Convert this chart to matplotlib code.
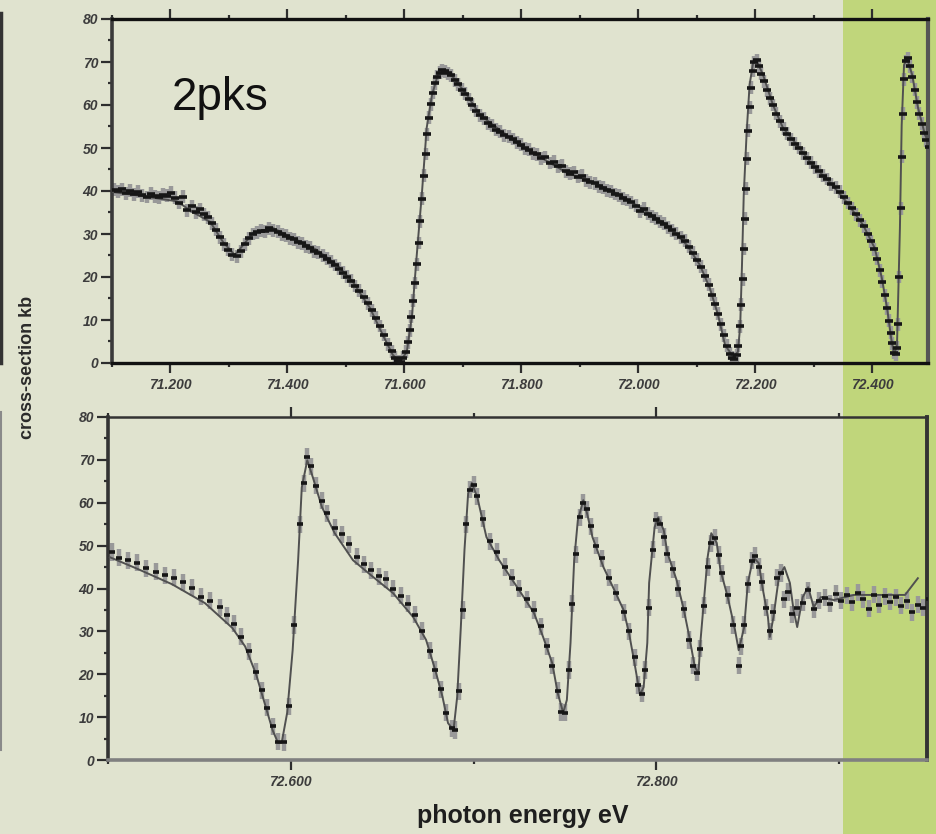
import matplotlib
matplotlib.use("Agg")
import matplotlib.pyplot as plt
from matplotlib.patches import Rectangle
from matplotlib.lines import Line2D
from matplotlib.ticker import MultipleLocator, FormatStrFormatter

# ---- top panel: 71.1 - 72.5 eV ----
top_x = [71.103, 71.110, 71.117, 71.124, 71.131, 71.138, 71.145, 71.152, 71.159, 71.166,
         71.173, 71.180, 71.187, 71.194, 71.201, 71.208, 71.215, 71.222, 71.229, 71.236,
         71.243, 71.250, 71.257, 71.264, 71.271, 71.278, 71.285, 71.292, 71.299, 71.306,
         71.313, 71.320, 71.327, 71.334, 71.341, 71.348, 71.355, 71.362, 71.369, 71.376,
         71.383, 71.390, 71.397, 71.404, 71.411, 71.418, 71.425, 71.432, 71.439, 71.446,
         71.453, 71.460, 71.467, 71.474, 71.481, 71.488, 71.495, 71.502, 71.509, 71.516,
         71.523, 71.530, 71.537, 71.544, 71.551, 71.558, 71.565, 71.572, 71.578, 71.584,
         71.589, 71.594, 71.598, 71.602, 71.606, 71.609, 71.612, 71.615, 71.618, 71.621,
         71.624, 71.627, 71.630, 71.633, 71.636, 71.639, 71.642, 71.645, 71.648, 71.652,
         71.656, 71.660, 71.665, 71.670, 71.675, 71.680, 71.686, 71.692, 71.698, 71.704,
         71.710, 71.716, 71.722, 71.729, 71.736, 71.743, 71.750, 71.757, 71.764, 71.771,
         71.778, 71.785, 71.792, 71.799, 71.806, 71.813, 71.820, 71.827, 71.834, 71.841,
         71.848, 71.855, 71.862, 71.869, 71.876, 71.883, 71.890, 71.897, 71.904, 71.911,
         71.918, 71.925, 71.932, 71.939, 71.946, 71.953, 71.960, 71.967, 71.974, 71.981,
         71.988, 71.995, 72.002, 72.009, 72.016, 72.023, 72.030, 72.037, 72.044, 72.051,
         72.058, 72.065, 72.072, 72.079, 72.086, 72.093, 72.100, 72.107, 72.114, 72.120,
         72.126, 72.131, 72.136, 72.141, 72.146, 72.151, 72.156, 72.160, 72.164, 72.168,
         72.171, 72.174, 72.176, 72.178, 72.180, 72.182, 72.184, 72.186, 72.188, 72.190,
         72.192, 72.195, 72.198, 72.202, 72.206, 72.210, 72.215, 72.220, 72.225, 72.230,
         72.236, 72.242, 72.248, 72.254, 72.260, 72.267, 72.274, 72.281, 72.288, 72.295,
         72.302, 72.309, 72.316, 72.323, 72.330, 72.337, 72.344, 72.351, 72.358, 72.365,
         72.372, 72.379, 72.386, 72.392, 72.398, 72.403, 72.408, 72.413, 72.417, 72.421,
         72.425, 72.428, 72.431, 72.434, 72.437, 72.440, 72.442, 72.444, 72.446, 72.448,
         72.450, 72.452, 72.454, 72.457, 72.460, 72.464, 72.468, 72.472, 72.476, 72.480,
         72.484, 72.488, 72.492, 72.496]
top_y = [40.3, 39.9, 40.4, 39.5, 40.1, 39.2, 39.8, 39.0, 38.6, 39.4,
         38.8, 38.5, 39.1, 38.9, 39.6, 38.4, 37.2, 38.7, 35.5, 36.4,
         35.0, 35.8, 34.6, 33.9, 32.5, 31.0, 29.2, 27.6, 26.3, 25.2,
         24.8, 26.0, 27.6, 29.0, 30.0, 30.4, 30.8, 30.6, 31.3, 30.9,
         30.5, 29.9, 29.6, 29.0, 28.8, 28.1, 27.8, 27.1, 26.8, 26.0,
         25.6, 24.9, 24.2, 23.5, 22.8, 21.9, 21.0, 20.1, 19.1, 17.9,
         16.8, 15.4, 13.9, 12.3, 10.5, 8.6, 6.5, 4.4, 2.7, 1.2,
         0.4, 0.3, 1.2, 2.6, 4.8, 7.6, 10.8, 14.5, 18.6, 23.0,
         27.9, 33.0, 38.2, 43.5, 48.6, 53.2, 57.0, 60.2, 62.9, 65.0,
         66.6, 67.5, 68.1, 67.8, 67.4, 66.9, 65.8, 64.8, 63.5, 62.6,
         61.4, 60.1, 58.6, 57.6, 56.9, 55.7, 55.2, 54.3, 53.8, 53.0,
         52.6, 52.1, 51.3, 50.8, 49.9, 49.6, 48.8, 48.5, 47.6, 47.9,
         46.5, 46.8, 45.7, 45.9, 44.6, 44.0, 44.4, 43.3, 43.6, 42.5,
         42.0, 41.8, 41.1, 40.8, 40.2, 39.9, 39.3, 39.0, 38.3, 37.9,
         37.4, 36.6, 35.3, 35.9, 34.7, 34.1, 33.6, 32.9, 32.4, 31.6,
         30.9, 30.1, 29.2, 28.4, 27.0, 25.6, 24.0, 22.4, 20.3, 18.2,
         15.9, 13.8, 11.5, 9.0, 6.4, 4.0, 2.2, 1.2, 1.0, 1.8,
         4.0, 8.5, 13.5, 19.5, 26.5, 33.5, 40.5, 47.5, 54.0, 59.5,
         64.0, 68.0, 70.0, 70.4, 69.0, 67.3, 65.5, 63.4, 61.6, 60.0,
         58.0, 56.2, 54.5, 53.3, 52.0, 51.0, 50.0, 48.8, 47.6, 46.6,
         45.5, 44.6, 43.5, 42.8, 41.6, 40.9, 39.8, 38.5, 37.2, 36.0,
         34.6, 33.2, 31.8, 30.0, 28.3, 26.4, 24.2, 21.6, 18.9, 15.8,
         12.7, 9.8, 7.0, 4.6, 2.4, 2.0, 3.6, 9.0, 20.0, 36.0,
         48.0, 58.0, 66.0, 70.2, 70.9, 69.0, 66.5, 63.5, 60.6, 58.0,
         55.6, 53.5, 51.8, 50.3]

top_fit_x = [71.100, 71.153, 71.211, 71.238, 71.268, 71.290, 71.310, 71.324, 71.341, 71.375,
             71.409, 71.450, 71.485, 71.512, 71.541, 71.563, 71.580, 71.592, 71.604, 71.613,
             71.621, 71.630, 71.638, 71.647, 71.657, 71.669, 71.683, 71.707, 71.729, 71.763,
             71.797, 71.832, 71.878, 71.922, 71.968, 72.015, 72.049, 72.083, 72.105, 72.122,
             72.136, 72.148, 72.162, 72.170, 72.174, 72.177, 72.180, 72.185, 72.190, 72.196,
             72.203, 72.213, 72.230, 72.247, 72.271, 72.298, 72.327, 72.356, 72.384, 72.404,
             72.416, 72.425, 72.432, 72.437, 72.442, 72.444, 72.447, 72.450, 72.454, 72.459,
             72.468, 72.478, 72.490, 72.500]
top_fit_y = [39.8, 38.8, 37.6, 35.1, 32.8, 28.1, 25.1, 27.4, 30.2, 31.4,
             29.1, 26.3, 22.8, 18.8, 12.8, 6.5, 1.9, 0.2, 2.6, 11.2,
             25.1, 39.8, 54.7, 62.3, 67.0, 67.7, 66.5, 62.3, 57.7, 54.2,
             50.6, 47.9, 44.2, 42.1, 39.1, 35.1, 32.1, 27.4, 22.8, 17.4,
             11.2, 4.2, 1.4, 2.6, 8.8, 22.8, 39.1, 53.7, 64.7, 69.8,
             70.0, 67.0, 60.0, 54.7, 50.7, 46.0, 42.1, 37.4, 32.1, 26.7,
             19.8, 12.8, 5.8, 1.9, 4.2, 15.1, 31.4, 55.3, 69.3, 70.9,
             67.0, 59.3, 53.0, 50.3]

# ---- bottom panel: 72.5 - 72.95 eV ----
bot_x = [72.502, 72.506, 72.511, 72.516, 72.521, 72.526, 72.531, 72.536, 72.541, 72.546,
         72.551, 72.556, 72.561, 72.565, 72.569, 72.573, 72.577, 72.581, 72.584, 72.587,
         72.590, 72.593, 72.596, 72.599, 72.602, 72.605, 72.607, 72.609, 72.611, 72.614,
         72.617, 72.620, 72.624, 72.628, 72.632, 72.636, 72.640, 72.644, 72.648, 72.652,
         72.656, 72.660, 72.664, 72.668, 72.672, 72.676, 72.679, 72.682, 72.685, 72.688,
         72.690, 72.692, 72.694, 72.696, 72.698, 72.700, 72.702, 72.705, 72.709, 72.713,
         72.717, 72.721, 72.725, 72.729, 72.733, 72.737, 72.740, 72.743, 72.746, 72.748,
         72.750, 72.752, 72.754, 72.756, 72.758, 72.760, 72.762, 72.764, 72.767, 72.770,
         72.774, 72.778, 72.782, 72.785, 72.788, 72.790, 72.792, 72.794, 72.796, 72.798,
         72.800, 72.802, 72.804, 72.806, 72.809, 72.812, 72.815, 72.818, 72.820, 72.822,
         72.824, 72.826, 72.828, 72.830, 72.832, 72.834, 72.836, 72.839, 72.842, 72.845,
         72.846, 72.848, 72.850, 72.852, 72.854, 72.856, 72.858, 72.860, 72.862, 72.864,
         72.866, 72.868, 72.870, 72.872, 72.874, 72.877, 72.880, 72.883, 72.886, 72.889,
         72.892, 72.895, 72.898, 72.901, 72.904, 72.907, 72.910, 72.913, 72.916, 72.919,
         72.922, 72.925, 72.928, 72.931, 72.934, 72.937, 72.940, 72.943, 72.946, 72.949]
bot_y = [48.5, 47.2, 46.6, 46.0, 44.7, 43.9, 43.1, 42.5, 41.4, 40.2,
         38.1, 37.2, 35.6, 33.8, 31.8, 28.8, 25.4, 20.6, 16.3, 12.2,
         7.9, 4.3, 4.1, 12.5, 31.5, 55.0, 64.5, 70.7, 68.5, 64.0,
         60.5, 57.5, 54.2, 52.6, 50.3, 47.4, 45.6, 44.2, 42.8, 42.1,
         40.0, 38.3, 36.5, 33.9, 30.1, 25.5, 21.0, 16.5, 11.0, 7.4,
         7.0, 16.0, 35.0, 55.0, 63.0, 64.2, 61.5, 56.3, 51.0, 48.5,
         45.0, 42.5, 40.0, 37.5, 35.0, 31.2, 26.5, 22.0, 16.2, 11.2,
         11.0, 21.0, 36.5, 48.0, 56.6, 60.0, 58.5, 54.5, 50.0, 47.0,
         42.5, 39.0, 34.5, 30.0, 24.0, 17.5, 15.5, 21.0, 35.5, 49.0,
         55.9, 55.0, 52.0, 48.0, 44.5, 40.0, 35.2, 28.0, 22.0, 20.4,
         26.0, 36.0, 45.0, 50.5, 51.8, 47.8, 43.5, 38.5, 31.5, 22.0,
         26.5, 31.5, 41.0, 46.5, 47.6, 45.0, 41.5, 35.5, 30.0, 34.5,
         42.5, 43.6, 37.5, 39.2, 34.0, 35.5, 36.7, 39.6, 35.2, 37.2,
         37.9, 36.5, 38.8, 37.2, 38.4, 36.8, 39.0, 37.5, 35.3, 38.6,
         36.2, 38.2, 36.9, 38.0, 36.0, 37.2, 34.5, 36.2, 35.5, 37.5]

bot_fit_x = [72.501, 72.516, 72.535, 72.553, 72.568, 72.575, 72.581, 72.586, 72.590, 72.593,
             72.595, 72.598, 72.601, 72.604, 72.606, 72.609, 72.612, 72.617, 72.624, 72.634,
             72.645, 72.656, 72.667, 72.674, 72.679, 72.683, 72.686, 72.689, 72.691, 72.693,
             72.695, 72.697, 72.699, 72.702, 72.707, 72.714, 72.726, 72.733, 72.738, 72.743,
             72.746, 72.749, 72.751, 72.753, 72.755, 72.757, 72.760, 72.762, 72.765, 72.771,
             72.777, 72.782, 72.785, 72.788, 72.791, 72.793, 72.795, 72.796, 72.799, 72.801,
             72.804, 72.806, 72.811, 72.815, 72.818, 72.821, 72.823, 72.824, 72.826, 72.828,
             72.830, 72.833, 72.835, 72.839, 72.843, 72.845, 72.848, 72.850, 72.853, 72.856,
             72.858, 72.861, 72.862, 72.864, 72.867, 72.870, 72.873, 72.875, 72.877, 72.880,
             72.883, 72.886, 72.890, 72.897, 72.908, 72.923, 72.936, 72.943]
bot_fit_y = [47.3, 44.6, 41.0, 36.6, 30.8, 26.5, 20.0, 12.8, 7.0, 4.0,
             4.0, 11.0, 25.6, 46.6, 63.6, 69.9, 66.0, 59.0, 52.9, 46.6,
             42.7, 38.9, 33.3, 28.0, 21.0, 14.7, 8.6, 7.0, 14.7, 31.0,
             49.0, 62.2, 64.6, 61.3, 52.0, 46.6, 38.9, 34.3, 28.7, 22.6,
             15.6, 11.0, 14.0, 27.3, 46.6, 55.9, 60.6, 57.6, 52.0, 45.0,
             39.6, 35.0, 29.6, 22.6, 15.2, 17.0, 27.3, 41.3, 54.3, 56.6,
             53.6, 48.3, 42.0, 35.0, 28.7, 21.7, 20.3, 27.3, 37.3, 47.3,
             52.9, 50.6, 44.3, 38.0, 30.3, 25.6, 31.0, 41.3, 47.3, 45.9,
             40.3, 33.3, 28.7, 33.3, 42.7, 45.0, 41.3, 35.0, 31.0, 38.0,
             40.3, 35.7, 38.0, 37.3, 38.5, 38.5, 38.5, 42.4]

BG = "#e0e3cf"
GREEN = "#c0d67b"
TICKFONT = dict(family="Liberation Sans", size=10, weight="bold", style="italic")

fig = plt.figure(figsize=(9.37, 8.34), dpi=100, facecolor=BG)
fig.add_artist(Rectangle((843 / 937, 0), 94 / 937, 1, transform=fig.transFigure,
                         facecolor=GREEN, edgecolor="none", zorder=-5))
# edges of neighbouring slide objects at the far left
fig.add_artist(Line2D([1.5 / 937] * 2, [1 - 363 / 834, 1 - 13 / 834], transform=fig.transFigure,
                      color="#333333", lw=2.5))
fig.add_artist(Line2D([1.0 / 937] * 2, [1 - 750 / 834, 1 - 412 / 834], transform=fig.transFigure,
                      color="#8a8a8a", lw=1.5))

ax1 = fig.add_axes([112 / 937, 1 - 363 / 834, 816 / 937, 344 / 834])
ax2 = fig.add_axes([108 / 937, 1 - 760 / 834, 819 / 937, 343 / 834])


def draw(ax, x, y, fx, fy, err, ms):
    ax.errorbar(x, y, yerr=err, fmt="none", ecolor="#999999", elinewidth=3.2, capsize=0, zorder=2)
    ax.plot(fx, fy, color="#505050", lw=1.4, zorder=3)
    ax.plot(x, y, ls="none", marker="_", ms=ms, mew=2.6, color="#161616", zorder=4)


draw(ax1, top_x, top_y, top_fit_x, top_fit_y, 1.5, 6)
draw(ax2, bot_x, bot_y, bot_fit_x, bot_fit_y, 2.0, 5)

ax1.set_xlim(71.1, 72.495)
ax2.set_xlim(72.5, 72.948)
for ax in (ax1, ax2):
    ax.set_facecolor("none")
    ax.set_ylim(0, 80)
    ax.xaxis.set_major_locator(MultipleLocator(0.2))
    ax.xaxis.set_minor_locator(MultipleLocator(0.1))
    ax.yaxis.set_major_locator(MultipleLocator(10))
    ax.yaxis.set_minor_locator(MultipleLocator(5))
    ax.xaxis.set_major_formatter(FormatStrFormatter("%.3f"))
    ax.yaxis.set_major_formatter(FormatStrFormatter("%d"))
    ax.tick_params(which="major", direction="out", length=7, width=1.6, color="#2e2e2e",
                   top=True, bottom=True, left=True, right=False, pad=4)
    ax.tick_params(which="minor", direction="out", length=3, width=1.6, color="#2e2e2e",
                   top=True, bottom=True, left=True, right=False)
    ax.tick_params(axis="y", which="major", length=8, pad=2)
    for lab in ax.get_xticklabels() + ax.get_yticklabels():
        lab.set_fontproperties(TICKFONT)
        lab.set_color("#3c3c3c")

ax1.spines["top"].set(color="#111111", linewidth=2.4)
ax1.spines["bottom"].set(color="#111111", linewidth=2.4)
ax1.spines["left"].set(color="#3a3a3a", linewidth=2.6)
ax1.spines["right"].set(color="#555555", linewidth=3.0)
ax2.spines["top"].set(color="#333333", linewidth=1.8)
ax2.spines["bottom"].set(color="#808080", linewidth=2.6)
ax2.spines["left"].set(color="#333333", linewidth=2.6)
ax2.spines["right"].set(color="#333333", linewidth=2.8)

fig.text(172 / 937, 1 - 110 / 834, "2pks", family="Liberation Sans", fontsize=33,
         color="#111111", va="baseline", ha="left")
fig.text(28 / 937, 1 - 367 / 834, "cross-section kb", family="Liberation Sans", fontsize=13,
         fontweight="bold", color="#2a2a2a", rotation=90, va="center", ha="center")
fig.text(523 / 937, 1 - 823 / 834, "photon energy eV", family="Liberation Sans", fontsize=18,
         fontweight="bold", color="#1e1e1e", va="baseline", ha="center")

fig.savefig("out.png", dpi=100, facecolor=BG)
